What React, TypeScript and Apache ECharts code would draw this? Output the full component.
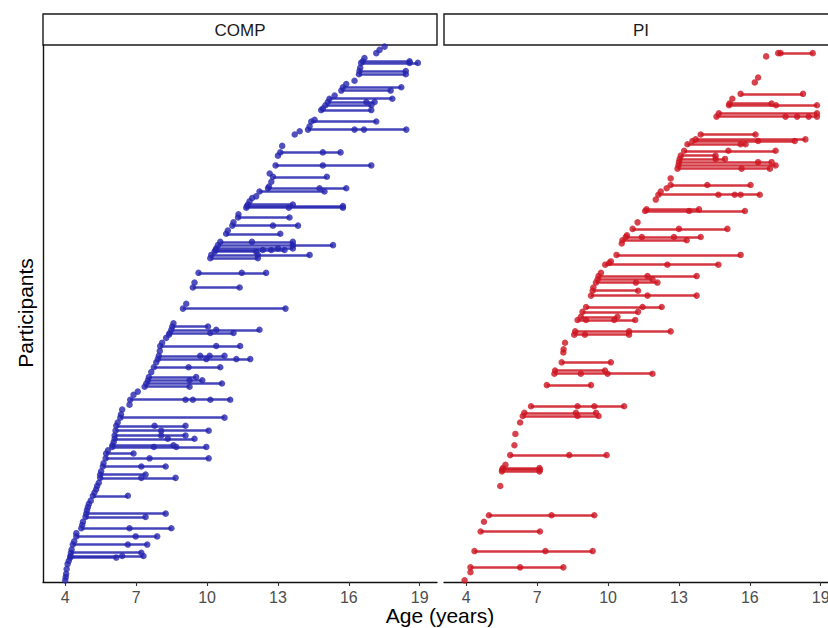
import React, { useEffect, useRef } from "react";
import * as echarts from "echarts";

const tickValues = [4, 7, 10, 13, 16, 19];
const panelTitles = ["COMP", "PI"];
const xTitle = "Age (years)";
const yTitle = "Participants";

// each row: [participant index, age at visit 1, age at visit 2, ...]
const compVisits: number[][] = [
  [1, 4.0], [3, 4.02], [5, 4.04], [8, 4.06], [11, 4.1], [13, 4.15],
  [15, 4.21, 6.16], [16, 4.22, 6.41, 7.31], [18, 4.24, 7.22], [20, 4.27],
  [23, 4.32, 6.65, 7.47], [25, 4.38], [28, 4.47, 6.98, 7.89], [30, 4.47],
  [33, 4.68, 6.72, 8.49], [35, 4.72], [37, 4.75], [40, 4.86, 7.4], [42, 4.89, 8.25],
  [44, 4.92], [46, 4.96], [48, 5.0], [50, 5.08], [53, 5.17, 6.65], [55, 5.24],
  [57, 5.31], [59, 5.35], [61, 5.42], [64, 5.48, 7.22, 8.67], [66, 5.48, 7.4],
  [68, 5.52], [71, 5.59, 7.22, 8.25], [73, 5.62], [76, 5.71, 7.57, 10.07],
  [79, 5.73, 6.89], [81, 5.81], [83, 5.99, 7.75, 8.7, 9.97], [84, 6.0, 8.58],
  [86, 6.05], [88, 6.09, 8.34, 9.47], [90, 6.09, 8.06, 9.09], [93, 6.13, 8.06, 10.07],
  [96, 6.16, 7.78, 9.09], [98, 6.22], [101, 6.33, 10.74], [103, 6.36], [106, 6.41],
  [109, 6.72], [112, 6.75, 9.09, 9.4, 10.14, 10.98], [115, 6.89], [117, 7.07],
  [120, 7.36, 9.26], [122, 7.43, 10.63], [124, 7.5, 9.26, 9.8], [126, 7.54, 9.54],
  [129, 7.64], [132, 7.75, 9.22, 10.56], [135, 7.85], [137, 7.92, 9.97, 11.24, 11.83],
  [139, 7.96, 9.71, 10.11, 10.74], [142, 8.0], [145, 8.02, 10.39, 11.4], [147, 8.1],
  [150, 8.27], [152, 8.39], [153, 8.42, 10.14, 11.12], [155, 8.49, 10.39, 12.22],
  [157, 8.53, 10.04], [159, 8.58], [168, 8.98, 13.32], [171, 9.12], [181, 9.4, 11.38],
  [184, 9.47], [190, 9.64, 11.47, 12.5], [199, 10.14, 12.15], [201, 10.18, 12.15, 14.34],
  [203, 10.32, 12.08], [204, 10.36, 12.36, 12.72, 13.28], [205, 10.39, 13.0, 13.63],
  [207, 10.46, 13.63, 15.33], [209, 10.56, 11.9, 13.63], [214, 10.81, 13.1], [216, 10.88],
  [219, 11.07, 12.79, 13.85], [221, 11.12], [224, 11.31, 13.49], [226, 11.33],
  [230, 11.66, 13.46, 15.75], [231, 11.69, 15.75], [232, 11.73, 13.63], [234, 11.8],
  [236, 11.91], [237, 12.08], [240, 12.22, 14.97], [242, 12.58, 14.76, 15.89],
  [243, 12.62], [246, 12.72], [249, 12.79, 15.07], [251, 12.65],
  [256, 12.9, 14.9, 16.95], [262, 13.0], [264, 13.1, 14.9, 15.65], [268, 13.18],
  [275, 13.71], [277, 13.92], [278, 14.27, 16.24, 16.64, 18.43], [280, 14.34],
  [283, 14.41, 17.16], [284, 14.55], [290, 14.83, 16.95], [291, 14.9],
  [293, 15.01, 16.95], [295, 15.11, 16.74, 17.09], [297, 15.18, 17.84], [299, 15.4],
  [302, 15.68, 17.77], [304, 15.75, 18.22], [306, 15.89], [308, 16.24],
  [312, 16.43, 18.41], [314, 16.45, 18.41], [316, 16.48], [319, 16.52, 18.57, 18.92],
  [320, 16.59, 18.57], [322, 16.66], [325, 17.16], [327, 17.3], [329, 17.51],
];

const piVisits: number[][] = [
  [1, 3.93], [6, 4.18], [9, 4.18, 6.28, 8.11], [19, 4.35, 7.35, 9.35], [31, 4.61, 7.12],
  [37, 4.75], [41, 4.96, 7.61, 9.42], [59, 5.44], [68, 5.51, 7.1], [69, 5.52, 7.12],
  [70, 5.55, 7.1], [72, 5.66], [78, 5.86, 8.36, 9.94], [84, 6.04], [91, 6.08], [98, 6.28],
  [102, 6.39, 8.71, 9.6], [104, 6.46, 8.64, 9.49], [108, 6.74, 8.71, 9.42, 10.68],
  [121, 7.41, 9.28], [128, 7.73, 8.85, 9.98, 11.88], [130, 7.76, 9.87], [135, 8.04, 10.12],
  [141, 8.11], [143, 8.12], [147, 8.18], [152, 8.57, 9.02, 10.89], [154, 8.61, 10.89, 12.65],
  [161, 8.71, 9.07, 10.26, 11.15], [163, 8.85, 10.4], [166, 8.92, 11.27],
  [169, 9.07, 11.46, 12.27], [176, 9.28, 11.67, 13.75], [179, 9.35, 11.27], [181, 9.38],
  [184, 9.49, 11.18, 12.09], [186, 9.56, 11.88], [188, 9.6, 11.67, 13.75], [190, 9.7],
  [195, 9.88, 12.51, 14.67], [196, 10.05], [197, 10.12], [201, 10.36, 15.61], [208, 10.58],
  [210, 10.61, 13.33], [212, 10.75, 11.43, 12.79, 13.92], [213, 10.8],
  [217, 11.04, 13.0, 15.05], [221, 11.25], [228, 11.57, 13.43, 15.79], [229, 11.63, 13.85],
  [235, 12.02], [238, 12.13, 14.67, 15.36, 15.61, 16.42], [240, 12.23], [242, 12.48],
  [244, 12.65, 14.2, 16.03], [248, 12.65], [254, 12.94, 15.65, 16.85], [256, 12.98, 17.09],
  [258, 13.0, 16.35, 16.92], [260, 13.03, 14.55, 14.95], [262, 13.08, 14.55],
  [265, 13.22, 15.09, 17.09], [269, 13.36, 15.61, 15.82], [271, 13.57, 16.35, 17.9],
  [272, 13.71, 18.35], [275, 13.92, 16.24], [286, 14.59, 17.51, 18.0, 18.49, 18.84],
  [288, 14.69, 18.84], [293, 15.12, 17.11, 18.84], [294, 15.14, 16.92], [297, 15.26],
  [300, 15.61, 18.25], [307, 16.21], [310, 16.35], [323, 16.69], [325, 17.2, 17.3, 18.66],
];

const groups = [
  { rows: compVisits, color: "#2424ae" },
  { rows: piVisits, color: "#cc1420" },
];

function segments(rows: number[][]) {
  return rows
    .filter((r) => r.length > 2)
    .map((r) => ({ coords: [[r[1], r[0]], [r[r.length - 1], r[0]]] }));
}

function points(rows: number[][]) {
  const out: number[][] = [];
  rows.forEach((r) => {
    for (let i = 1; i < r.length; i++) out.push([r[i], r[0]]);
  });
  return out;
}

export default function App() {
  const ref = useRef<HTMLDivElement>(null);
  useEffect(() => {
    if (!ref.current) return;
    const chart = echarts.init(ref.current, null, { renderer: "svg" });
    const font = "Liberation Sans, Arial, sans-serif";
    const gridLefts = [43, 444];
    const option: any = {
      animation: false,
      backgroundColor: "#ffffff",
      textStyle: { fontFamily: font },
      grid: gridLefts.map((l) => ({
        left: l,
        top: 45,
        width: 394,
        height: 537,
        containLabel: false,
        outerBoundsMode: "none",
      })),
      xAxis: gridLefts.map((_, i) => ({
        gridIndex: i,
        type: "value",
        min: 3.06,
        max: 19.73,
        axisLine: { show: true, onZero: false, lineStyle: { color: "#111", width: 1.4 } },
        axisTick: { show: true, length: 4, lineStyle: { color: "#333", width: 1.1 }, customValues: tickValues },
        axisLabel: { color: "#4d4d4d", fontSize: 16, margin: 7, fontFamily: font, customValues: tickValues },
        splitLine: { show: false },
      })),
      yAxis: gridLefts.map((_, i) => ({
        gridIndex: i,
        type: "value",
        min: 0,
        max: 330,
        axisLine: { show: i === 0, onZero: false, lineStyle: { color: "#111", width: 1.4 } },
        axisTick: { show: false },
        axisLabel: { show: false },
        splitLine: { show: false },
      })),
      series: [
        ...groups.map((g, i) => ({
          type: "lines",
          coordinateSystem: "cartesian2d",
          xAxisIndex: i,
          yAxisIndex: i,
          data: segments(g.rows),
          lineStyle: { color: g.color, width: 2.5, opacity: 0.85 },
          silent: true,
          z: 2,
        })),
        ...groups.map((g, i) => ({
          type: "scatter",
          xAxisIndex: i,
          yAxisIndex: i,
          data: points(g.rows),
          symbol: "circle",
          symbolSize: 6.5,
          itemStyle: { color: g.color, opacity: 0.8 },
          silent: true,
          z: 3,
        })),
      ],
      graphic: [
        ...gridLefts.map((l, i) => ({
          type: "rect",
          shape: { x: l, y: 14, width: i === 0 ? 394 : 420, height: 31 },
          style: { fill: "#ffffff", stroke: "#1a1a1a", lineWidth: 1.4 },
        })),
        ...gridLefts.map((l, i) => ({
          type: "text",
          x: l + 197,
          y: 30,
          style: {
            text: panelTitles[i],
            font: "17px " + font,
            fill: "#1a1a1a",
            textAlign: "center",
            textVerticalAlign: "middle",
            align: "center",
            verticalAlign: "middle",
          },
        })),
        {
          type: "text",
          x: 440,
          y: 615,
          style: {
            text: xTitle,
            font: "21px " + font,
            fill: "#000",
            textAlign: "center",
            textVerticalAlign: "middle",
            align: "center",
            verticalAlign: "middle",
          },
        },
        {
          type: "text",
          x: 25,
          y: 313,
          rotation: Math.PI / 2,
          style: {
            text: yTitle,
            font: "21px " + font,
            fill: "#000",
            textAlign: "center",
            textVerticalAlign: "middle",
            align: "center",
            verticalAlign: "middle",
          },
        },
      ],
    };
    chart.setOption(option);
    return () => chart.dispose();
  }, []);
  return (
    <div
      ref={ref}
      style={{ position: "fixed", left: 0, top: 0, width: 828, height: 628, background: "#fff" }}
    />
  );
}
